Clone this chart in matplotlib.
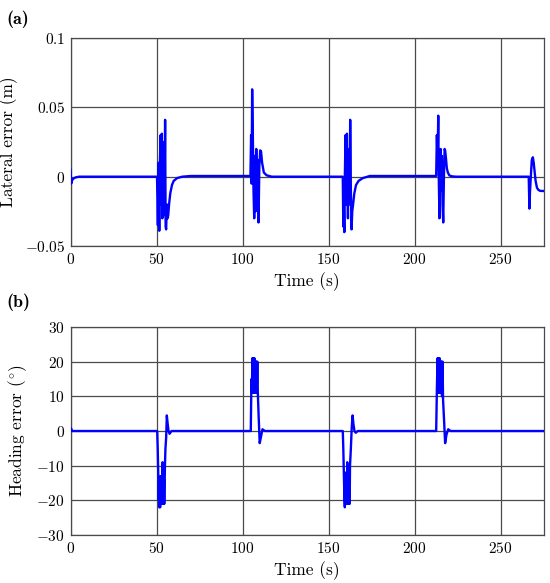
import matplotlib
matplotlib.use("Agg")
import matplotlib.pyplot as plt

plt.rcParams['font.family'] = 'serif'
plt.rcParams['font.serif'] = ['cmr10']
plt.rcParams['mathtext.fontset'] = 'cm'
plt.rcParams['axes.formatter.use_mathtext'] = True

# ---------------- data ----------------
t_lat = [0, 0.4, 0.8, 1.5, 3, 5, 50.3,
         50.8, 51.2, 51.6, 52.0, 52.4, 52.8, 53.1, 53.4, 53.7, 54.0, 54.3, 54.7, 55.0,
         55.3, 55.6, 56.0, 56.4, 56.8, 57.3, 58, 59, 60, 62, 65, 70,
         104.6, 105.0, 105.3, 105.6, 106.0, 106.4, 106.8, 107.2, 107.6, 108.0, 108.4,
         108.8, 109.3, 109.8, 110.3, 110.8, 111.4, 112.4, 114, 117,
         158.3, 158.6, 158.9, 159.2, 159.5, 159.9, 160.3, 160.7, 161.0, 161.3, 161.6,
         162.0, 162.3, 162.6, 163.0, 163.4, 163.8, 164.3, 165, 166, 167.5, 170, 174,
         212.6, 213.0, 213.4, 213.8, 214.1, 214.5, 214.9, 215.2, 215.5, 215.9, 216.3,
         216.7, 217.1, 217.5, 217.8, 218.3, 218.8, 219.4, 220.2, 221.5, 224,
         266.4, 266.8, 267.1, 267.4, 267.8, 268.2, 268.8, 269.3, 269.8, 270.4, 271.2,
         272.0, 273.0, 274.0, 275]
y_lat = [0.005, -0.005, -0.003, -0.0015, -0.0005, 0.0, 0.0,
         -0.035, 0.01, -0.039, 0.012, 0.03, -0.02, 0.031, -0.03, 0.02, -0.028, 0.025, -0.01, 0.041,
         -0.036, -0.038, -0.02, -0.03, -0.028, -0.02, -0.012, -0.006, -0.003, -0.001, 0.0, 0.0005,
         0.0005, 0.03, -0.005, 0.063, 0.03, -0.01, -0.03, 0.015, -0.025, 0.02, -0.01,
         0.012, -0.033, 0.008, 0.019, 0.018, 0.01, 0.003, 0.001, 0.0,
         0.0, -0.036, -0.02, -0.04, 0.0, 0.03, -0.02, 0.031, 0.0, -0.03, 0.01,
         0.02, -0.02, 0.041, -0.01, -0.038, -0.025, -0.02, -0.012, -0.006, -0.003, -0.001, 0.0005,
         0.0005, 0.03, 0.01, 0.044, 0.0, -0.03, 0.01, 0.02, -0.01, 0.015, -0.02,
         -0.033, 0.0, 0.02, 0.019, 0.013, 0.006, 0.003, 0.001, 0.0003, 0.0,
         0.0, -0.023, -0.012, -0.005, 0.004, 0.012, 0.014, 0.01, 0.004, -0.003, -0.008,
         -0.0095, -0.0102, -0.0103, -0.0103]

t_head = [0, 0.3, 0.8, 1.5, 50.4,
          50.7, 51.0, 51.3, 51.5, 51.7, 51.9, 52.1, 52.3, 52.5, 52.7, 52.9, 53.1, 53.3,
          53.5, 53.7, 53.9, 54.1, 54.3, 54.5, 54.7,
          54.9, 55.2, 55.6, 56.0, 56.5, 57.0, 57.6, 58.7,
          104.8, 105.2, 105.5, 105.7, 105.9, 106.1, 106.3, 106.5, 106.7, 106.9, 107.1,
          107.3, 107.5, 107.7, 107.9, 108.1, 108.3, 108.6, 108.9, 109.4, 110.0, 110.6,
          111.6, 113,
          158.3, 158.6, 159.0, 159.3, 159.5, 159.7, 159.9, 160.1, 160.3, 160.5, 160.7,
          160.9, 161.1, 161.3, 161.5, 161.7, 161.9, 162.1, 162.3, 162.5, 163.0, 163.5,
          164.0, 164.5, 165.1, 165.8, 167,
          212.6, 213.0, 213.4, 213.6, 213.8, 214.0, 214.2, 214.4, 214.6, 214.8, 215.0,
          215.2, 215.4, 215.6, 215.8, 216.0, 216.3, 216.6, 217.2, 217.8, 218.6, 219.6,
          221, 275]
y_head = [0.5, 0.8, 0.0, 0.0, 0.0,
          -5, -12, -20, -15, -22, -14, -22, -13, -21, -16, -21, -13, -21,
          -9, -20, -12, -21, -14, -21, -16,
          -10, -5, -2, 4.5, 2, 0, -0.8, 0,
          0, 15, 11, 21, 12, 21, 11, 21, 12, 21, 11,
          20, 12, 20, 11, 20, 12, 20, 11, 4, -3.5, -2,
          0.5, 0,
          0, -5, -14, -20, -22, -12, -21, -15, -21, -13, -21,
          -9, -20, -12, -21, -14, -21, -16, -21, -10, -5, 1,
          4.5, 2, 0, -0.5, 0,
          0, 12, 21, 11, 21, 12, 21, 11, 21, 12, 20,
          11, 20, 12, 20, 10, 20, 9, 3, -3.5, -1, 0.5,
          0, 0]

xticks = [0, 50, 100, 150, 200, 250]
xticklabels = ['0', '50', '100', '150', '200', '250']
yticks_a = [-0.05, 0, 0.05, 0.1]
yticklabels_a = [r'$-0.05$', r'$0$', r'$0.05$', r'$0.1$']
yticks_b = [-30, -20, -10, 0, 10, 20, 30]
yticklabels_b = [r'$-30$', r'$-20$', r'$-10$', r'$0$', r'$10$', r'$20$', r'$30$']

# ---------------- figure ----------------
fig = plt.figure(figsize=(5.5, 5.83), dpi=100)
ax1 = fig.add_axes([0.1282, 0.578, 0.8600, 0.3568])
ax2 = fig.add_axes([0.1282, 0.0823, 0.8600, 0.3568])

gridc = '#4a4a4a'
for ax, t, y, yt, ytl, ylim, ylab in [
        (ax1, t_lat, y_lat, yticks_a, yticklabels_a, (-0.05, 0.1), 'Lateral error (m)'),
        (ax2, t_head, y_head, yticks_b, yticklabels_b, (-30, 30), r'Heading error $(^{\circ})$')]:
    ax.plot(t, y, color='#0000ff', lw=1.7, zorder=3)
    ax.set_xlim(0, 275)
    ax.set_ylim(*ylim)
    ax.set_xticks(xticks)
    ax.set_xticklabels([r'$%s$' % s for s in xticklabels])
    ax.set_yticks(yt)
    ax.set_yticklabels(ytl)
    ax.grid(True, color=gridc, lw=0.9)
    ax.set_axisbelow(True)
    for sp in ax.spines.values():
        sp.set_color(gridc)
        sp.set_linewidth(0.9)
    ax.tick_params(length=0, labelsize=11, pad=4)
    ax.set_xlabel('Time (s)', fontsize=12.5, labelpad=4)
    ax.set_ylabel(ylab, fontsize=12.5, labelpad=5)

fig.text(0.011, 0.982, '(a)', fontsize=13, family='cmb10', va='top', ha='left')
fig.text(0.011, 0.497, '(b)', fontsize=13, family='cmb10', va='top', ha='left')

fig.savefig('out.png', dpi=100)
